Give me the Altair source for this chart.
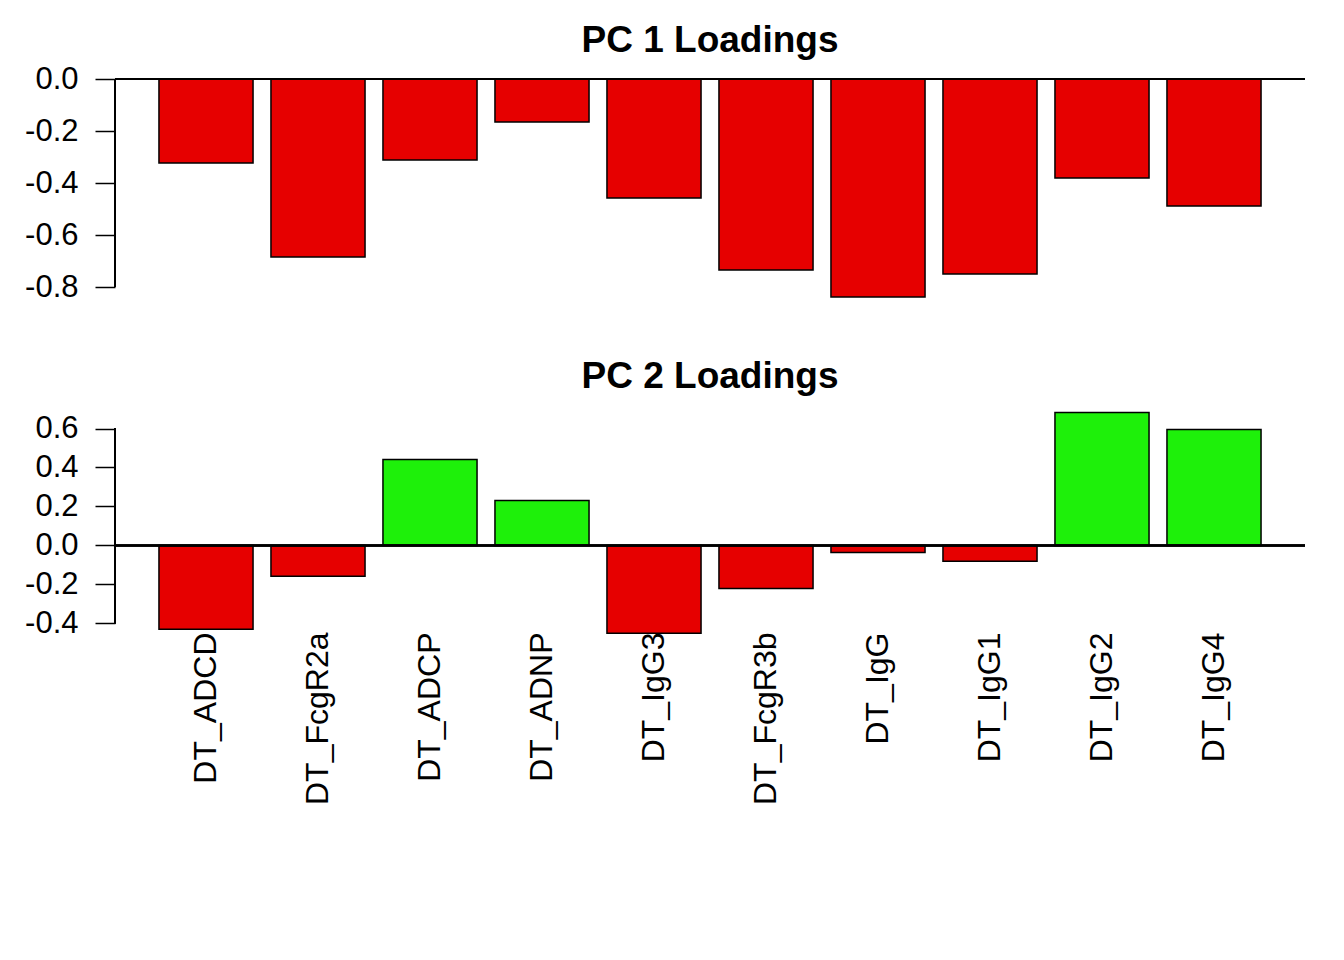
import altair as alt
import pandas as pd

names = ["DT_ADCD", "DT_FcgR2a", "DT_ADCP", "DT_ADNP", "DT_IgG3",
         "DT_FcgR3b", "DT_IgG", "DT_IgG1", "DT_IgG2", "DT_IgG4"]
pc1 = [-0.323, -0.685, -0.312, -0.165, -0.458, -0.735, -0.838, -0.750, -0.381, -0.488]
pc2 = [-0.431, -0.159, 0.441, 0.231, -0.451, -0.221, -0.036, -0.082, 0.682, 0.595]
pc1_ticks = [0.0, -0.2, -0.4, -0.6, -0.8]
pc2_ticks = [0.6, 0.4, 0.2, 0.0, -0.2, -0.4]
titles = ["PC 1 Loadings", "PC 2 Loadings"]

RED = "#E60000"
GREEN = "#1EF00A"
FONT = "Liberation Sans"
W = 1190


def panel(vals, title, dom, h, ticks, show_x, title_offset):
    df = pd.DataFrame({"name": names, "value": vals})
    base = alt.Chart(df)
    if show_x:
        xaxis = alt.Axis(labelAngle=-90, ticks=False, tickSize=0, domain=False,
                         labelPadding=-3, labelFontSize=32, labelFont=FONT,
                         labelColor="black", labelOverlap=False, title=None)
    else:
        xaxis = None
    x = alt.X("name:N", sort=names,
              scale=alt.Scale(paddingInner=0.16, paddingOuter=0.3925),
              axis=xaxis, title=None)
    yaxis = alt.Axis(values=ticks, format=".1f",
                     labelExpr="replace(datum.label, '\u2212', '-')",
                     domain=False, tickSize=20, tickWidth=1.5, tickColor="black",
                     labelPadding=17, labelFontSize=31, labelFont=FONT,
                     labelColor="black", grid=False, title=None,
                     minExtent=107, maxExtent=107, labelFlush=False,
                     labelOverlap=False)
    y = alt.Y("value:Q", scale=alt.Scale(domain=dom, nice=False, zero=False),
              axis=yaxis, title=None)
    bars = base.transform_calculate(
        sign="datum.value > 0 ? 'pos' : 'neg'"
    ).mark_bar(stroke="black", strokeWidth=1.5).encode(
        x=x, y=y,
        color=alt.Color("sign:N",
                        scale=alt.Scale(domain=["neg", "pos"], range=[RED, GREEN]),
                        legend=None),
    )
    zero = base.mark_rule(color="black", strokeWidth=1.5).encode(
        y=alt.datum(0), x=alt.value(0), x2=alt.value(W))
    axis_line = base.mark_rule(color="black", strokeWidth=1.5).encode(
        x=alt.value(0), y=alt.datum(ticks[0]), y2=alt.datum(ticks[-1]))
    return alt.layer(bars, zero, axis_line).properties(
        width=W, height=h,
        title=alt.TitleParams(title, font=FONT, fontSize=37, fontWeight="bold",
                              color="black", anchor="middle", frame="group",
                              offset=title_offset),
    )


p1 = panel(pc1, titles[0], [-0.85, 0.0], 221, pc1_ticks, False, 3)
p2 = panel(pc2, titles[1], [-0.46, 0.69], 224, pc2_ticks, True, 15)

chart = alt.vconcat(p1, p2, spacing=55).properties(
    padding={"left": 0, "top": 14, "right": 0, "bottom": 0}
).configure_view(stroke=None).resolve_scale(color="shared")

chart.save("out.html", embed_options={"renderer": "svg", "actions": False})
